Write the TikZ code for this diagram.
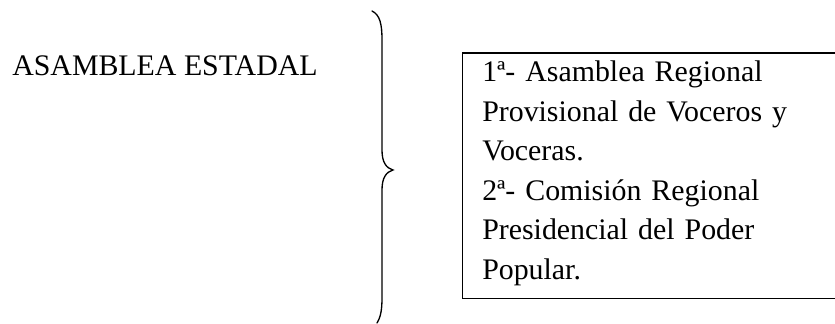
\documentclass[tikz,border=0pt]{standalone}
\usepackage{fontspec}
\setmainfont{Liberation Serif}
\tikzset{
  bigtext/.style={font=\fontsize{22.4}{29.6}\selectfont, inner sep=0pt},
  bracestyle/.style={line width=1pt, line cap=round},
  boxstyle/.style={draw, line width=0.8pt, rectangle, inner sep=0pt}
}
\begin{document}
\begin{tikzpicture}[x=0.75pt,y=-0.75pt]
\useasboundingbox (0,0) rectangle (835,324);
\clip (0,0) rectangle (835,324);
\node[bigtext, anchor=base west] (title) at (12,75.5) {ASAMBLEA ESTADAL};
\coordinate (btop) at (372,11);
\coordinate (btip) at (393,170);
\coordinate (bbot) at (377,323);
\draw[bracestyle] (btop) .. controls (380,15) and (382,24) .. (382,40) -- (382,150)
  .. controls (382,162) and (386,168) .. (btip)
  .. controls (386,172) and (382,178) .. (382,190) -- (382,298)
  .. controls (382,312) and (380,318) .. (bbot);
\node[boxstyle, anchor=north west, minimum width=380*0.75pt, minimum height=245.5*0.75pt] (box) at (462,52.5) {};
\node[bigtext, anchor=base west, text width=340*0.75pt, align=left] (list) at (482,82)
  {1ª- Asamblea Regional\\Provisional de Voceros y\\Voceras.\\2ª- Comisión Regional\\Presidencial del Poder\\Popular.};
\end{tikzpicture}
\end{document}
